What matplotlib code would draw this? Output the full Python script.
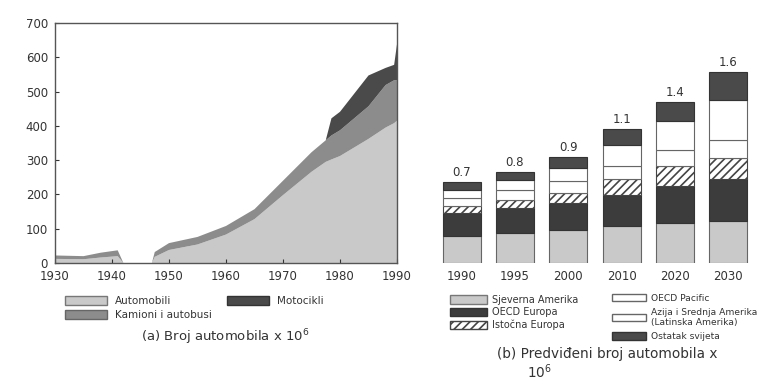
import matplotlib
matplotlib.use("Agg")
import matplotlib.pyplot as plt
import numpy as np
from matplotlib.patches import Patch

# ---- Data: panel (a) ----
years = [1930, 1935, 1938, 1941, 1942, 1947, 1947.5, 1950, 1955, 1960, 1965,
         1970, 1975, 1977.5, 1978.5, 1980, 1985, 1988, 1989.5, 1990]
automobili = [12, 11, 16, 20, 0, 0, 18, 38, 54, 83, 128,
              198, 266, 295, 302, 312, 362, 395, 408, 415]
kamioni = [10, 9, 14, 17, 0, 0, 14, 20, 22, 25, 29,
           42, 57, 63, 70, 75, 95, 124, 125, 118]
motocikli = [0, 0, 0, 0, 0, 0, 0, 0, 0, 0, 0,
             0, 0, 0, 50, 54, 90, 50, 45, 105]

# ---- Data: panel (b) ----
bar_years = ["1990", "1995", "2000", "2010", "2020", "2030"]
bar_totals = ["0.7", "0.8", "0.9", "1.1", "1.4", "1.6"]
sj_amerika = [78, 87, 97, 107, 117, 122]
oecd_europa = [68, 73, 78, 92, 107, 123]
ist_europa = [19, 24, 29, 46, 58, 61]
oecd_pacific = [24, 29, 34, 39, 49, 53]
azija = [24, 29, 39, 61, 83, 117]
ostatak = [24, 24, 32, 47, 56, 81]

plt.rcParams['font.family'] = ['DejaVu Sans']
plt.rcParams['hatch.linewidth'] = 1.2
fig = plt.figure(figsize=(7.6, 3.8), dpi=100)

C_LIGHT = "#c9c9c9"
C_MED = "#8c8c8c"
C_DARK = "#4a4a4a"
C_DARK2 = "#3c3c3c"
TXT = "#333333"

# ---- Panel (a) ----
ax = fig.add_axes([55/760, 1-263/380, 342/760, 240/380])
ax.stackplot(years, automobili, kamioni, motocikli,
             colors=[C_LIGHT, C_MED, C_DARK], linewidth=0)
ax.set_xlim(1930, 1990)
ax.set_ylim(0, 700)
ax.set_xticks([1930, 1940, 1950, 1960, 1970, 1980, 1990])
ax.set_yticks(range(0, 701, 100))
ax.tick_params(direction='in', labelsize=8.5, colors=TXT, length=3)
ax.tick_params(axis='x', pad=5)
ax.tick_params(axis='y', pad=5)
for s in ax.spines.values():
    s.set_color("#555555")
    s.set_linewidth(1.0)

leg_kw = dict(loc="upper left", frameon=False, handlelength=4.0, handleheight=0.9,
              borderpad=0, handletextpad=0.8, labelcolor=TXT)
fig.legend(handles=[Patch(facecolor=C_LIGHT, edgecolor="#777777", label="Automobili"),
                    Patch(facecolor=C_MED, edgecolor="#666666", label="Kamioni i autobusi")],
           bbox_to_anchor=(60/760, 1-291/380), fontsize=7.5, labelspacing=0.35, **leg_kw)
fig.legend(handles=[Patch(facecolor=C_DARK, edgecolor="#333333", label="Motocikli")],
           bbox_to_anchor=(222/760, 1-291/380), fontsize=7.5, labelspacing=0.35, **leg_kw)
fig.text(225/760, 1-337/380, "(a) Broj automobila x 10$^6$", ha="center", va="center",
         fontsize=9.5, color=TXT)

# ---- Panel (b) ----
bx = fig.add_axes([435/760, 1-263/380, 320/760, 240/380])
x = np.arange(len(bar_years))
w = 0.71
series = [
    (sj_amerika, dict(color=C_LIGHT, edgecolor="#666666")),
    (oecd_europa, dict(color=C_DARK2, edgecolor="#333333")),
    (ist_europa, dict(color="white", edgecolor="#444444", hatch="////")),
    (oecd_pacific, dict(color="white", edgecolor="#666666")),
    (azija, dict(color="white", edgecolor="#666666")),
    (ostatak, dict(color=C_DARK, edgecolor="#333333")),
]
bottom = np.zeros(len(x))
for vals, kw in series:
    bx.bar(x, vals, w, bottom=bottom, linewidth=0.8, **kw)
    bottom += np.array(vals)
for xi, tot, lab in zip(x, bottom, bar_totals):
    bx.text(xi, tot + 8, lab, ha="center", va="bottom", fontsize=8.5, color=TXT)
bx.set_xlim(-0.5, 5.5)
bx.set_ylim(0, 700)
bx.set_xticks(x)
bx.set_xticklabels(bar_years)
bx.set_yticks([])
bx.tick_params(length=0, labelsize=8.5, colors=TXT, pad=5)
for s in bx.spines.values():
    s.set_visible(False)

leg_kw2 = dict(leg_kw, handletextpad=0.5, handlelength=3.8)
fig.legend(handles=[Patch(facecolor=C_LIGHT, edgecolor="#777777", label="Sjeverna Amerika"),
                    Patch(facecolor=C_DARK2, edgecolor="#333333", label="OECD Europa"),
                    Patch(facecolor="white", edgecolor="#444444", hatch="////", label="Istočna Europa")],
           bbox_to_anchor=(445/760, 1-290/380), fontsize=7, labelspacing=0.25, **leg_kw2)
fig.legend(handles=[Patch(facecolor="white", edgecolor="#666666", label="OECD Pacific"),
                    Patch(facecolor="white", edgecolor="#666666", label="Azija i Srednja Amerika\n(Latinska Amerika)"),
                    Patch(facecolor=C_DARK, edgecolor="#333333", label="Ostatak svijeta")],
           bbox_to_anchor=(607/760, 1-289/380), fontsize=6.6, labelspacing=0.55, **leg_kw2)
fig.text(497/760, 1-354/380, "(b) Predviđeni broj automobila x", ha="left", va="center",
         fontsize=9.8, color=TXT)
fig.text(527/760, 1-372/380, "10$^6$", ha="left", va="center", fontsize=9.8, color=TXT)

fig.savefig("out.png", dpi=100)
